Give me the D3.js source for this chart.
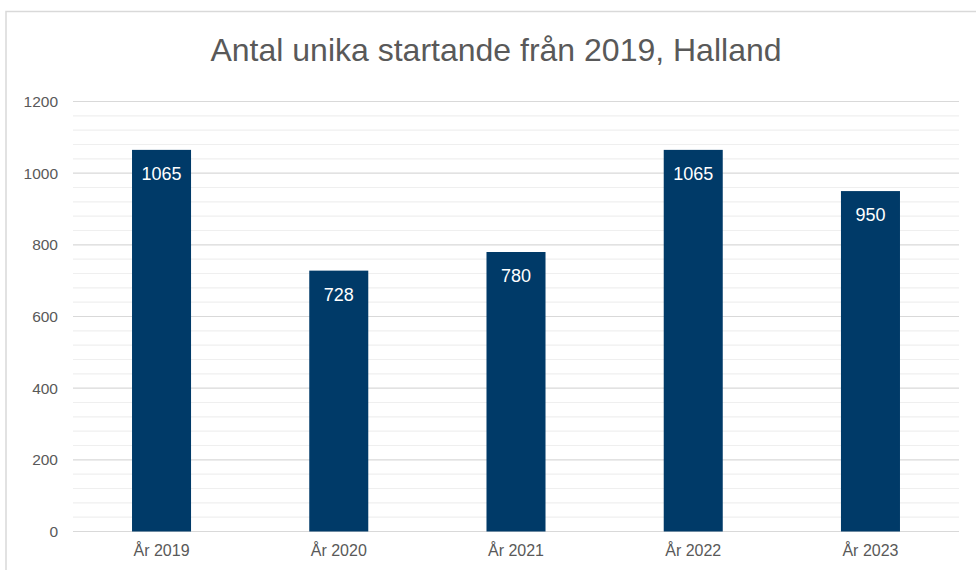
<!DOCTYPE html>
<html>
<head>
<meta charset="utf-8">
<script src="https://cdn.jsdelivr.net/npm/d3@7"></script>
<style>
  html, body { margin: 0; padding: 0; background: #fff; }
  svg { display: block; font-family: "Liberation Sans", Arial, sans-serif; }
</style>
</head>
<body>
<div id="chart"></div>
<script>
const categories = ["År 2019", "År 2020", "År 2021", "År 2022", "År 2023"];
const values = [1065, 728, 780, 1065, 950];
const majorTicks = [0, 200, 400, 600, 800, 1000, 1200];
const minorTicks = d3.range(0, 1201, 40);
const title = "Antal unika startande från 2019, Halland";

const width = 976, height = 570;
const textColor = "#595959";
const barColor = "#003a68";

const margin = { left: 73, right: 17, top: 101.5, bottom: 38.5 };

const svg = d3.select("#chart").append("svg")
    .attr("width", width)
    .attr("height", height)
    .attr("viewBox", [0, 0, width, height]);

// chart frame (runs off the right/bottom edge)
svg.append("rect")
    .attr("x", 6)
    .attr("y", 11.5)
    .attr("width", 1000)
    .attr("height", 600)
    .attr("fill", "#fff")
    .attr("stroke", "#d9d9d9")
    .attr("stroke-width", 1.5);

const x = d3.scaleBand()
    .domain(categories)
    .range([margin.left, width - margin.right])
    .paddingInner(0.667)
    .paddingOuter(0.333);

const y = d3.scaleLinear()
    .domain([0, 1200])
    .range([height - margin.bottom, margin.top]);

// minor gridlines
svg.append("g")
    .selectAll("line")
    .data(minorTicks.filter(d => d % 200 !== 0))
    .join("line")
    .attr("x1", margin.left)
    .attr("x2", width - margin.right)
    .attr("y1", d => y(d))
    .attr("y2", d => y(d))
    .attr("stroke", "#efefef")
    .attr("stroke-width", 1.2);

// major gridlines
svg.append("g")
    .selectAll("line")
    .data(majorTicks)
    .join("line")
    .attr("x1", margin.left)
    .attr("x2", width - margin.right)
    .attr("y1", d => y(d))
    .attr("y2", d => y(d))
    .attr("stroke", "#d9d9d9")
    .attr("stroke-width", 1.2);

// y tick labels
svg.append("g")
    .attr("font-size", 15.5)
    .attr("fill", textColor)
    .attr("text-anchor", "end")
    .selectAll("text")
    .data(majorTicks)
    .join("text")
    .attr("x", 58)
    .attr("y", d => y(d))
    .attr("dy", "0.36em")
    .text(d => d);

// bars
svg.append("g")
    .selectAll("rect")
    .data(values)
    .join("rect")
    .attr("x", (d, i) => x(categories[i]))
    .attr("y", d => y(d))
    .attr("width", x.bandwidth())
    .attr("height", d => y(0) - y(d))
    .attr("fill", barColor);

// value labels inside bars
svg.append("g")
    .attr("font-size", 18)
    .attr("fill", "#fff")
    .attr("text-anchor", "middle")
    .selectAll("text")
    .data(values)
    .join("text")
    .attr("x", (d, i) => x(categories[i]) + x.bandwidth() / 2)
    .attr("y", d => y(d) + 30)
    .text(d => d);

// x axis labels
svg.append("g")
    .attr("font-size", 16)
    .attr("fill", textColor)
    .attr("text-anchor", "middle")
    .selectAll("text")
    .data(categories)
    .join("text")
    .attr("x", d => x(d) + x.bandwidth() / 2)
    .attr("y", height - margin.bottom + 24)
    .text(d => d);

svg.append("text")
    .attr("x", 496)
    .attr("y", 61)
    .attr("font-size", 32)
    .attr("fill", textColor)
    .attr("text-anchor", "middle")
    .text(title);
</script>
</body>
</html>
